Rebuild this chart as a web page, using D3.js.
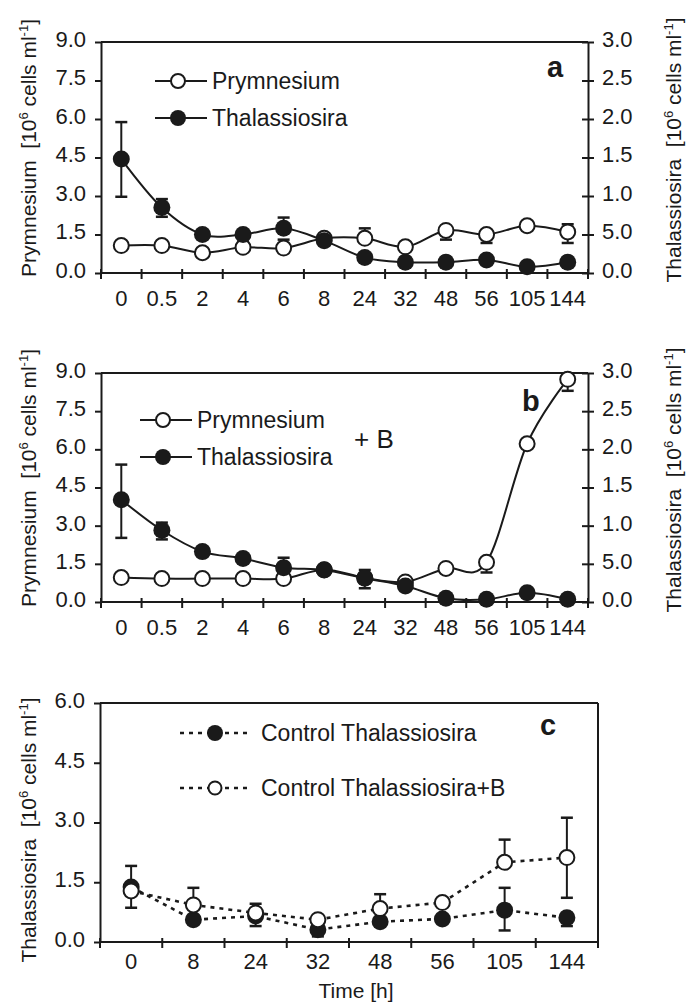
<!DOCTYPE html>
<html><head><meta charset="utf-8">
<script src="https://cdn.jsdelivr.net/npm/d3@7"></script>
<style>
body{margin:0;background:#fff}
svg{display:block}
text{font-family:"Liberation Sans",Arial,Helvetica,sans-serif;fill:#1a1a1a;white-space:pre}
</style>
</head><body><svg id="chart" width="691" height="1004"></svg>
<script>
// ---------- data ----------
const timesAB = ["0","0.5","2","4","6","8","24","32","48","56","105","144"];
const timesC = ["0","8","24","32","48","56","105","144"];

const leftTicksAB = [0, 1.5, 3, 4.5, 6, 7.5, 9];
const leftLabelsAB = ["0.0","1.5","3.0","4.5","6.0","7.5","9.0"];
const rightTicksAB = [0, 0.5, 1, 1.5, 2, 2.5, 3];
const rightLabelsAB = ["0.0","5.0","1.0","1.5","2.0","2.5","3.0"];
const leftTicksC = [0, 1.5, 3, 4.5, 6];
const leftLabelsC = ["0.0","1.5","3.0","4.5","6.0"];

// panel a (Prymnesium on left axis, Thalassiosira on right axis)
const aPrym   = [1.07,1.07,0.79,1.00,0.97,1.35,1.35,1.02,1.66,1.50,1.84,1.60];
const aPrymHi = [null,null,null,null,1.30,null,1.74,null,null,null,null,1.90];
const aPrymLo = [null,null,null,null,null,null,null,null,1.30,1.17,null,1.17];
const aThal   = [1.48,0.85,0.50,0.50,0.58,0.42,0.20,0.14,0.14,0.17,0.08,0.14];
const aThalHi = [1.96,0.96,null,null,0.72,null,null,null,null,null,null,null];
const aThalLo = [0.99,0.73,null,null,null,null,null,null,null,null,null,null];

// panel b (+B)
const bPrym   = [0.96,0.92,0.92,0.92,0.92,1.27,0.95,0.79,1.32,1.56,6.22,8.75];
const bPrymHi = [null,null,null,null,null,null,null,null,null,null,null,null];
const bPrymLo = [null,null,null,null,null,null,null,null,null,1.16,null,8.3];
const bThal   = [1.34,0.94,0.66,0.57,0.45,0.42,0.31,0.21,0.05,0.035,0.12,0.035];
const bThalHi = [1.80,1.04,null,null,0.58,null,0.42,null,null,null,null,null];
const bThalLo = [0.84,0.82,null,null,null,null,0.18,null,null,null,null,null];

// panel c (controls)
const cCtrl   = [1.38,0.56,0.65,0.31,0.51,0.58,0.80,0.61];
const cCtrlHi = [null,null,null,null,null,null,1.36,0.73];
const cCtrlLo = [null,null,0.40,0.14,null,null,0.29,0.40];
const cCtrlB   = [1.28,0.93,0.73,0.56,0.84,0.99,2.00,2.12];
const cCtrlBHi = [1.91,1.36,0.96,null,1.20,null,2.57,3.12];
const cCtrlBLo = [0.86,null,null,null,null,null,null,1.11];

// ---------- drawing ----------
const INK = "#1a1a1a";
const svg = d3.select("#chart");
svg.append("rect").attr("width",691).attr("height",1004).attr("fill","#fff");

function titleText(g, x, y, name, fs) {
  const t = g.append("text")
    .attr("transform", `translate(${x},${y}) rotate(-90)`)
    .attr("text-anchor","middle").style("font-size", fs + "px");
  t.append("tspan").text(name + "  [10");
  t.append("tspan").text("6").attr("dy", -8).style("font-size", (fs*0.62) + "px");
  t.append("tspan").text(" cells ml").attr("dy", 8);
  t.append("tspan").text("-1").attr("dy", -8).style("font-size", (fs*0.62) + "px");
  t.append("tspan").text("]").attr("dy", 8);
}

function drawPanel(p) {
  const g = svg.append("g");
  const x = d3.scaleBand().domain(p.cats).range([p.left, p.right]);
  const cx = c => x(c) + x.bandwidth() / 2;
  const yL = d3.scaleLinear().domain([0, p.maxL]).range([p.bottom, p.top]);
  const yR = p.maxR ? d3.scaleLinear().domain([0, p.maxR]).range([p.bottom, p.top]) : null;

  // frame
  g.append("line").attr("x1", p.left).attr("x2", p.right).attr("y1", p.top).attr("y2", p.top)
    .attr("stroke", INK).attr("stroke-width", 2);
  if (!yR) {
    g.append("line").attr("x1", p.right).attr("x2", p.right).attr("y1", p.top).attr("y2", p.bottom)
      .attr("stroke", INK).attr("stroke-width", 2);
  }

  // left axis
  const gl = g.append("g").attr("transform", `translate(${p.left},0)`)
    .call(d3.axisLeft(yL).tickValues(p.leftTicks).tickFormat((d, i) => p.leftLabels[i])
      .tickSizeOuter(0).tickSizeInner(6).tickPadding(9));
  gl.select(".domain").attr("stroke", INK).attr("stroke-width", 2);
  gl.selectAll(".tick line").attr("stroke", INK).attr("stroke-width", 2);
  gl.selectAll(".tick text").attr("dy", "0.2em").style("font-size", p.fs + "px").attr("fill", INK);

  // right axis
  if (yR) {
    const gr = g.append("g").attr("transform", `translate(${p.right},0)`)
      .call(d3.axisRight(yR).tickValues(p.rightTicks).tickFormat((d, i) => p.rightLabels[i])
        .tickSizeOuter(0).tickSizeInner(6).tickPadding(8));
    gr.select(".domain").attr("stroke", INK).attr("stroke-width", 2);
    gr.selectAll(".tick line").attr("x1", -6).attr("stroke", INK).attr("stroke-width", 2);
    gr.selectAll(".tick text").attr("dy", "0.2em").style("font-size", p.fs + "px").attr("fill", INK);
  }

  // bottom axis: labels at band centers, ticks at band edges
  const gb = g.append("g").attr("transform", `translate(0,${p.bottom})`)
    .call(d3.axisBottom(x).tickSize(0).tickPadding(0));
  gb.select(".domain").remove();
  gb.selectAll(".tick text").attr("y", p.xLabelY).attr("dy", 0).style("font-size", p.fs + "px").attr("fill", INK);
  g.append("line").attr("x1", p.left).attr("x2", p.right).attr("y1", p.bottom).attr("y2", p.bottom)
    .attr("stroke", INK).attr("stroke-width", 2);
  const edges = p.cats.map(c => x(c)).concat([p.right]);
  g.selectAll(null).data(edges).join("line")
    .attr("x1", d => d).attr("x2", d => d)
    .attr("y1", p.bottom - 4).attr("y2", p.bottom + 6)
    .attr("stroke", INK).attr("stroke-width", 2);

  // series
  const scaleOf = s => s.axis === "R" ? yR : yL;
  p.series.forEach(s => {
    const y = scaleOf(s);
    const pts = s.vals.map((v, i) => [cx(p.cats[i]), y(v)]);
    g.append("path").attr("d", d3.line().curve(s.curve)(pts))
      .attr("fill", "none").attr("stroke", INK).attr("stroke-width", s.dash ? 2.6 : 2)
      .attr("stroke-dasharray", s.dash || null);
  });
  p.series.forEach(s => {
    const y = scaleOf(s);
    p.cats.forEach((c, i) => {
      const xc = cx(c);
      [[s.hi && s.hi[i]], [s.lo && s.lo[i]]].forEach(([e]) => {
        if (e == null) return;
        g.append("line").attr("x1", xc).attr("x2", xc).attr("y1", y(s.vals[i])).attr("y2", y(e))
          .attr("stroke", INK).attr("stroke-width", 2);
        g.append("line").attr("x1", xc - 6).attr("x2", xc + 6).attr("y1", y(e)).attr("y2", y(e))
          .attr("stroke", INK).attr("stroke-width", 2.5);
      });
    });
  });
  p.order.forEach(k => {
    const s = p.series[k];
    const y = scaleOf(s);
    g.selectAll(null).data(s.vals).join("circle")
      .attr("cx", (d, i) => cx(p.cats[i])).attr("cy", d => y(d))
      .attr("r", s.filled ? 8.5 : 7.5)
      .attr("fill", s.filled ? INK : "#fff")
      .attr("stroke", INK).attr("stroke-width", s.filled ? 0 : 2);
  });

  // legend
  p.legend.forEach(l => {
    g.append("line").attr("x1", l.x1).attr("x2", l.x2).attr("y1", l.y).attr("y2", l.y)
      .attr("stroke", INK).attr("stroke-width", l.dash ? 2.4 : 2).attr("stroke-dasharray", l.dash || null);
    g.append("circle").attr("cx", l.cx).attr("cy", l.y).attr("r", l.r)
      .attr("fill", l.filled ? INK : "#fff").attr("stroke", INK).attr("stroke-width", l.filled ? 0 : 2);
    g.append("text").attr("x", l.tx).attr("y", l.y + 8).style("font-size", l.fs + "px").text(l.text);
  });

  // panel letter
  g.append("text").attr("x", p.letter.x).attr("y", p.letter.y).style("font-size", "29px")
    .style("font-weight", "bold").text(p.letter.t);

  return g;
}

const cardinal = d3.curveCardinal;

const ga = drawPanel({
  cats: timesAB, left: 101, right: 588, top: 42, bottom: 273, maxL: 9, maxR: 3, fs: 22, xLabelY: 33,
  leftTicks: leftTicksAB, leftLabels: leftLabelsAB, rightTicks: rightTicksAB, rightLabels: rightLabelsAB,
  series: [
    {vals: aPrym, hi: aPrymHi, lo: aPrymLo, axis: "L", filled: false, curve: cardinal},
    {vals: aThal, hi: aThalHi, lo: aThalLo, axis: "R", filled: true, curve: cardinal}
  ],
  order: [0, 1],
  legend: [
    {x1: 155, x2: 207, cx: 178, y: 81, r: 7, filled: false, tx: 212, text: "Prymnesium", fs: 23},
    {x1: 155, x2: 207, cx: 178, y: 118, r: 8, filled: true, tx: 212, text: "Thalassiosira", fs: 23}
  ],
  letter: {x: 547, y: 77, t: "a"}
});
titleText(ga, 36, 148, "Prymnesium", 21);
titleText(ga, 681, 150, "Thalassiosira", 21);

const gbp = drawPanel({
  cats: timesAB, left: 101, right: 588, top: 373, bottom: 602, maxL: 9, maxR: 3, fs: 22, xLabelY: 33,
  leftTicks: leftTicksAB, leftLabels: leftLabelsAB, rightTicks: rightTicksAB, rightLabels: rightLabelsAB,
  series: [
    {vals: bPrym, hi: bPrymHi, lo: bPrymLo, axis: "L", filled: false, curve: cardinal},
    {vals: bThal, hi: bThalHi, lo: bThalLo, axis: "R", filled: true, curve: cardinal}
  ],
  order: [0, 1],
  legend: [
    {x1: 140, x2: 192, cx: 163, y: 420, r: 7, filled: false, tx: 197, text: "Prymnesium", fs: 23},
    {x1: 140, x2: 192, cx: 163, y: 457, r: 8, filled: true, tx: 197, text: "Thalassiosira", fs: 23}
  ],
  letter: {x: 522, y: 411, t: "b"}
});
gbp.append("text").attr("x", 354).attr("y", 448).style("font-size", "26px").text("+ B");
titleText(gbp, 36, 478, "Prymnesium", 21);
titleText(gbp, 681, 480, "Thalassiosira", 21);

const gc = drawPanel({
  cats: timesC, left: 100, right: 598, top: 703, bottom: 942, maxL: 6, maxR: null, fs: 22, xLabelY: 27,
  leftTicks: leftTicksC, leftLabels: leftLabelsC,
  series: [
    {vals: cCtrl, hi: cCtrlHi, lo: cCtrlLo, axis: "L", filled: true, curve: d3.curveLinear, dash: "4,5"},
    {vals: cCtrlB, hi: cCtrlBHi, lo: cCtrlBLo, axis: "L", filled: false, curve: d3.curveLinear, dash: "4,5"}
  ],
  order: [0, 1],
  legend: [
    {x1: 180, x2: 252, cx: 215, y: 733, r: 8, filled: true, tx: 261, text: "Control Thalassiosira", fs: 23, dash: "4,5"},
    {x1: 180, x2: 252, cx: 215, y: 788, r: 6.5, filled: false, tx: 261, text: "Control Thalassiosira+B", fs: 23, dash: "4,5"}
  ],
  letter: {x: 540, y: 735, t: "c"}
});
titleText(gc, 36, 830, "Thalassiosira", 21);
gc.append("text").attr("x", 356).attr("y", 998).attr("text-anchor", "middle").style("font-size", "21px").text("Time [h]");
</script></body></html>
